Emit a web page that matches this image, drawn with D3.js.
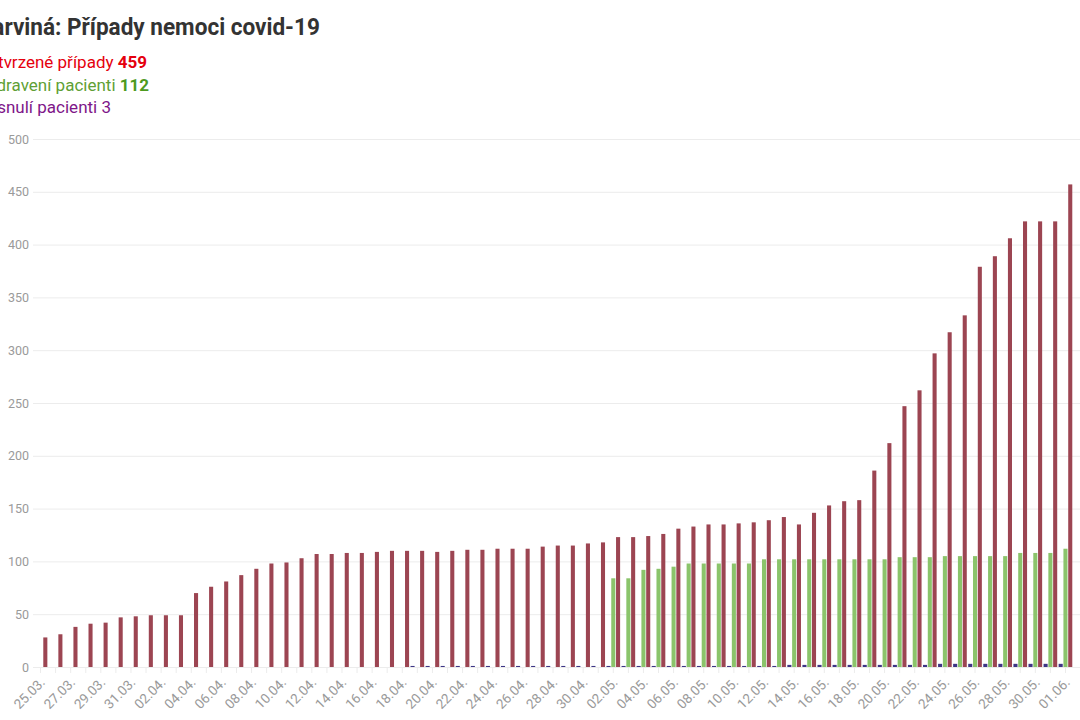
<!DOCTYPE html>
<html>
<head>
<meta charset="utf-8">
<script src="https://cdn.jsdelivr.net/npm/d3@7"></script>
<style>
  html, body { margin: 0; padding: 0; background: #fff; }
  svg { display: block; font-family: Roboto, "Noto Sans", sans-serif; }
</style>
</head>
<body>
<div id="chart"></div>
<script>
// dates shown on the x axis (one group per day)
const days = [
    "25.03.", "26.03.", "27.03.", "28.03.", "29.03.", "30.03.", "31.03.",
    "01.04.", "02.04.", "03.04.", "04.04.", "05.04.", "06.04.", "07.04.", "08.04.", "09.04.", "10.04.",
    "11.04.", "12.04.", "13.04.", "14.04.", "15.04.", "16.04.", "17.04.", "18.04.", "19.04.", "20.04.",
    "21.04.", "22.04.", "23.04.", "24.04.", "25.04.", "26.04.", "27.04.", "28.04.", "29.04.", "30.04.",
    "01.05.", "02.05.", "03.05.", "04.05.", "05.05.", "06.05.", "07.05.", "08.05.", "09.05.", "10.05.",
    "11.05.", "12.05.", "13.05.", "14.05.", "15.05.", "16.05.", "17.05.", "18.05.", "19.05.", "20.05.",
    "21.05.", "22.05.", "23.05.", "24.05.", "25.05.", "26.05.", "27.05.", "28.05.", "29.05.", "30.05.",
    "31.05.", "01.06."
];

const confirmed = [
    28, 31, 38, 41, 42, 47, 48, 49, 49, 49,
    70, 76, 81, 87, 93, 98, 99, 103, 107, 107,
    108, 108, 109, 110, 110, 110, 109, 110, 111, 111,
    112, 112, 112, 114, 115, 115, 117, 118, 123, 123,
    124, 126, 131, 133, 135, 135, 136, 137, 139, 142,
    135, 146, 153, 157, 158, 186, 212, 247, 262, 297,
    317, 333, 379, 389, 406, 422, 422, 422, 457
];

const recovered = [
    0, 0, 0, 0, 0, 0, 0, 0, 0, 0,
    0, 0, 0, 0, 0, 0, 0, 0, 0, 0,
    0, 0, 0, 0, 0, 0, 0, 0, 0, 0,
    0, 0, 0, 0, 0, 0, 0, 0, 84, 84,
    92, 93, 95, 98, 98, 98, 98, 98, 102, 102,
    102, 102, 102, 102, 102, 102, 102, 104, 104, 104,
    105, 105, 105, 105, 105, 108, 108, 108, 112
];

const deaths = [
    0, 0, 0, 0, 0, 0, 0, 0, 0, 0,
    0, 0, 0, 0, 0, 0, 0, 0, 0, 0,
    0, 0, 0, 0, 0, 1, 1, 1, 1, 1,
    1, 1, 1, 1, 1, 1, 1, 1, 1, 1,
    1, 1, 1, 1, 1, 1, 1, 1, 1, 1,
    2, 2, 2, 2, 2, 2, 2, 2, 2, 2,
    3, 3, 3, 3, 3, 3, 3, 3, 3
];

const yTicks = [0, 50, 100, 150, 200, 250, 300, 350, 400, 450, 500];

// bar order inside each day: deaths, recovered, confirmed
const seriesKeys = ["deaths", "recovered", "confirmed"];
const seriesValues = { deaths, recovered, confirmed };
const barColors = { deaths: "#3d3585", recovered: "#8bc46b", confirmed: "#9c4552" };

const title = "Karviná: Případy nemoci covid-19";
const legendItems = [
    { label: "Potvrzené případy ", value: "459", color: "#e5000d", valueColor: "#e5000d", bold: true },
    { label: "Uzdravení pacienti ", value: "112", color: "#5f9f35", valueColor: "#4e9a1f", bold: true },
    { label: "Zesnulí pacienti ", value: "3", color: "#7e1689", valueColor: "#7e1689", bold: false },
];

const width = 1080;
const height = 720;
const margin = { top: 139, right: 7, bottom: 53, left: 33 };

const svg = d3.select("#chart").append("svg").attr("width", width).attr("height", height);

const x0 = d3.scaleBand()
    .domain(days)
    .range([margin.left, width - margin.right])
    .paddingInner(0)
    .paddingOuter(0);

const x1 = d3.scaleBand()
    .domain(seriesKeys)
    .range([0, x0.bandwidth()])
    .paddingInner(0.15)
    .paddingOuter(0.15);

const y = d3.scaleLinear()
    .domain([0, 500])
    .range([height - margin.bottom, margin.top]);

// gridlines + y labels
const yAxis = svg.append("g")
    .attr("transform", `translate(${margin.left},0)`)
    .call(d3.axisLeft(y).tickValues(yTicks).tickSize(-(width - margin.left)).tickPadding(4));
yAxis.select(".domain").remove();
yAxis.selectAll(".tick line").attr("stroke", "#ececec").attr("stroke-width", 1);
yAxis.selectAll(".tick text")
    .attr("fill", "#9a9a9a")
    .attr("font-size", 12.5)
    .attr("font-family", "Roboto, sans-serif");

// x axis: light tick under each day, labels every second day
const xAxis = svg.append("g")
    .attr("transform", `translate(0,${y(0)})`)
    .call(d3.axisBottom(x0).tickSize(6).tickFormat(""));
xAxis.select(".domain").remove();
xAxis.selectAll(".tick line").attr("stroke", "#ececec");

svg.append("g")
    .selectAll("text")
    .data(days.filter((d, i) => i % 2 === 0))
    .join("text")
    .attr("transform", d => `translate(${x0(d) + x0.bandwidth() / 2 + 2},${y(0) + 13}) rotate(-45)`)
    .attr("text-anchor", "end")
    .attr("dy", "0.35em")
    .attr("fill", "#9a9a9a")
    .attr("font-size", 13.5)
    .text(d => d);

// bars
const groups = svg.append("g")
    .selectAll("g")
    .data(days)
    .join("g")
    .attr("transform", d => `translate(${x0(d)},0)`);

groups.selectAll("rect")
    .data((d, i) => seriesKeys.map(k => ({ key: k, value: seriesValues[k][i] })))
    .join("rect")
    .attr("x", d => x1(d.key))
    .attr("width", x1.bandwidth())
    .attr("y", d => y(d.value))
    .attr("height", d => y(0) - y(d.value))
    .attr("fill", d => barColors[d.key]);

// title and legend, right edges as in the original, cut at the left edge
function placeLine(sel, rightEdge, baseline, condense) {
    const w = sel.node().getComputedTextLength();
    const left = rightEdge - w * condense;
    sel.attr("transform", `translate(${left},${baseline}) scale(${condense},1)`);
}

const titleText = svg.append("text")
    .attr("font-size", 24)
    .attr("font-weight", 700)
    .attr("fill", "#333")
    .text(title);
placeLine(titleText, 320, 35, 0.94);

const legendRight = [147, 149, 111];
legendItems.forEach((item, i) => {
    const t = svg.append("text").attr("font-size", 17);
    t.append("tspan").attr("fill", item.color).text(item.label);
    t.append("tspan")
        .attr("fill", item.valueColor)
        .attr("font-weight", item.bold ? 700 : 400)
        .text(item.value);
    placeLine(t, legendRight[i], 68 + i * 22.5, 1.0);
});
</script>
</body>
</html>
